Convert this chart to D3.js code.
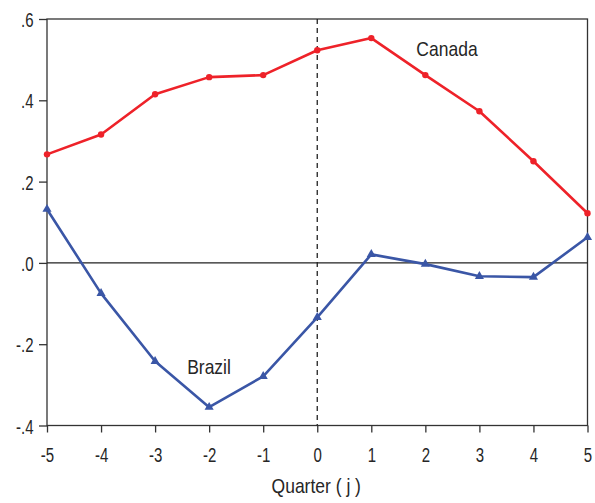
<!DOCTYPE html>
<html>
<head>
<meta charset="utf-8">
<script src="https://cdn.jsdelivr.net/npm/d3@7"></script>
<style>
  html, body { margin: 0; padding: 0; background: #fff; }
  svg { display: block; font-family: "Liberation Sans", Arial, sans-serif; }
</style>
</head>
<body>
<svg id="chart" width="595" height="503"></svg>
<script>
// Cross-correlation by quarter lead/lag
const quarters = [-5, -4, -3, -2, -1, 0, 1, 2, 3, 4, 5];
const canada = [0.267, 0.316, 0.415, 0.457, 0.462, 0.523, 0.553, 0.462, 0.373, 0.250, 0.122];
const brazil = [0.132, -0.075, -0.242, -0.355, -0.279, -0.134, 0.021, -0.003, -0.033, -0.035, 0.063];
const yTicks = [-0.4, -0.2, 0.0, 0.2, 0.4, 0.6];
const yTickLabels = ["-.4", "-.2", ".0", ".2", ".4", ".6"];

const svg = d3.select("#chart");
const m = { left: 47, right: 587.5, top: 19, bottom: 425.5 };

const x = d3.scaleLinear().domain([-5, 5]).range([m.left, m.right]);
const y = d3.scaleLinear().domain([-0.4, 0.6]).range([m.bottom, m.top]);
const ink = "#262626";

// frame
svg.append("rect")
  .attr("x", m.left).attr("y", m.top)
  .attr("width", m.right - m.left).attr("height", m.bottom - m.top)
  .attr("fill", "none").attr("stroke", "#333").attr("stroke-width", 1.3);

// zero line and event line
svg.append("line")
  .attr("x1", m.left).attr("x2", m.right)
  .attr("y1", y(0)).attr("y2", y(0))
  .attr("stroke", "#222").attr("stroke-width", 1.1);
svg.append("line")
  .attr("x1", x(0)).attr("x2", x(0))
  .attr("y1", m.top).attr("y2", m.bottom)
  .attr("stroke", "#222").attr("stroke-width", 1.3)
  .attr("stroke-dasharray", "5,4");

// axes (tall, narrow tick lettering)
const xAxis = d3.axisBottom(x).tickValues(quarters).tickSize(7)
  .tickFormat(d => String(d));
const gx = svg.append("g").attr("transform", `translate(0,${m.bottom})`).call(xAxis);
gx.select(".domain").remove();
gx.selectAll("line").attr("stroke", "#333").attr("stroke-width", 1.3);
gx.selectAll("text")
  .attr("y", 0).attr("dy", null)
  .attr("transform", "translate(0,36) scale(1,1.38)")
  .attr("font-size", 15).attr("fill", ink);

const yAxis = d3.axisLeft(y).tickValues(yTicks).tickSize(8)
  .tickFormat((d, i) => yTickLabels[i]);
const gy = svg.append("g").attr("transform", `translate(${m.left},0)`).call(yAxis);
gy.select(".domain").remove();
gy.selectAll("line").attr("stroke", "#333").attr("stroke-width", 1.3);
gy.selectAll("text")
  .attr("x", 0).attr("dy", null)
  .attr("transform", "translate(-13.5,7.5) scale(1,1.38)")
  .attr("font-size", 15).attr("fill", ink);

// series
const line = d3.line().x((d, i) => x(quarters[i])).y(d => y(d));
const red = "#ee2229", blue = "#3a56a6";

svg.append("path").datum(canada)
  .attr("d", line).attr("fill", "none").attr("stroke", red)
  .attr("stroke-width", 2.6).attr("stroke-linejoin", "round");
svg.append("g").selectAll("circle").data(canada).join("circle")
  .attr("cx", (d, i) => x(quarters[i])).attr("cy", d => y(d)).attr("r", 3.2)
  .attr("fill", red);

svg.append("path").datum(brazil)
  .attr("d", line).attr("fill", "none").attr("stroke", blue)
  .attr("stroke-width", 2.6).attr("stroke-linejoin", "round");
const tri = d3.symbol().type(d3.symbolTriangle).size(36);
svg.append("g").selectAll("path").data(brazil).join("path")
  .attr("d", tri)
  .attr("transform", (d, i) => `translate(${x(quarters[i])},${y(d)})`)
  .attr("fill", blue);

// labels
function label(txt, cx, base) {
  svg.append("text")
    .attr("transform", `translate(${cx},${base}) scale(1,1.12)`)
    .attr("text-anchor", "middle")
    .attr("font-size", 17.5).attr("fill", ink).text(txt);
}
label("Canada", 447, 56);
label("Brazil", 209, 374);
label("Quarter ( j )", x(0) - 1, 493);
</script>
</body>
</html>
